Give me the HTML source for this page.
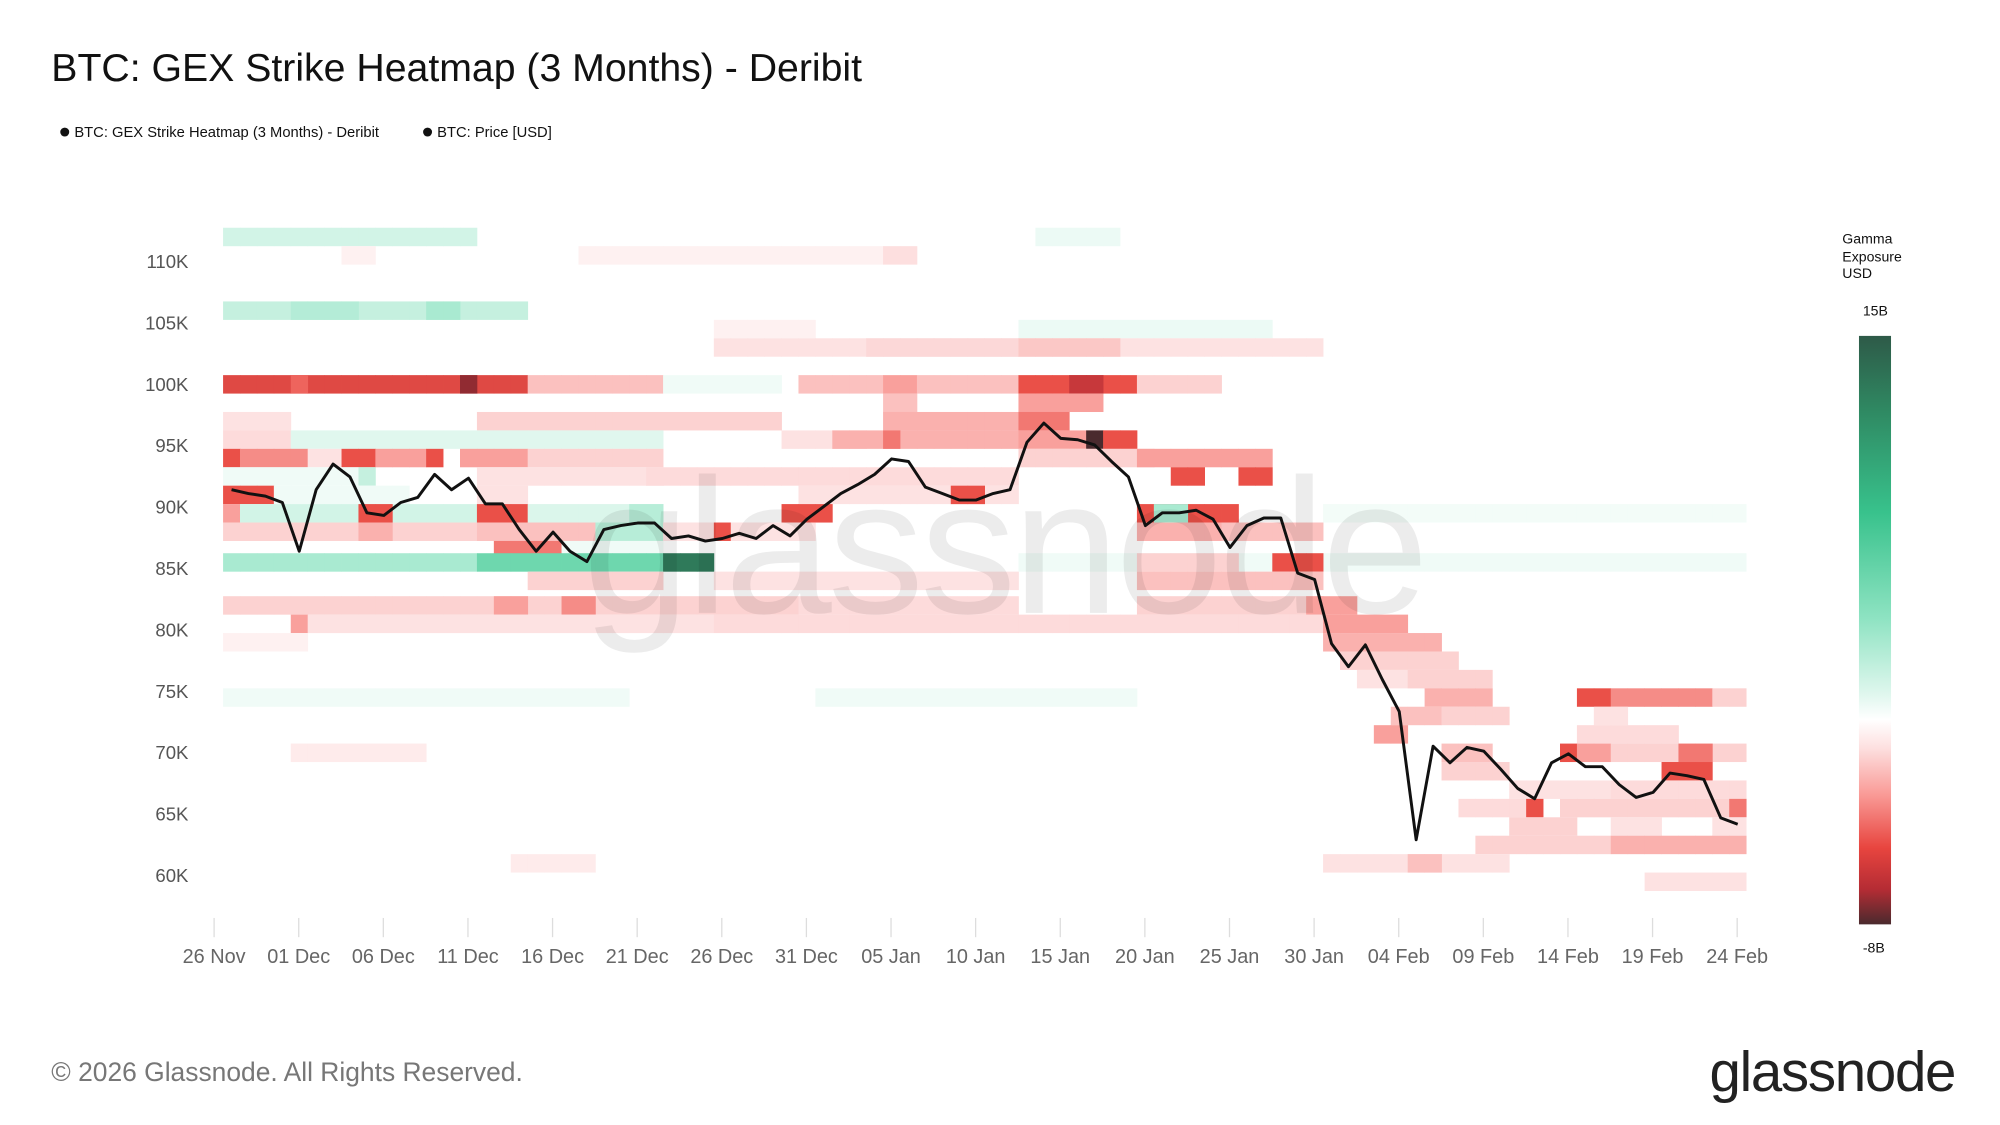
<!DOCTYPE html>
<html><head><meta charset="utf-8"><style>
html,body{margin:0;padding:0;background:#fff;width:2000px;height:1125px;overflow:hidden}
svg{display:block;font-family:"Liberation Sans",sans-serif}
</style></head><body>
<svg id="chart" width="2000" height="1125" viewBox="0 0 1560 877.5" xmlns="http://www.w3.org/2000/svg">
<defs>
<linearGradient id="cbar" x1="0" y1="0" x2="0" y2="1">
<stop offset="0" stop-color="#2e5a48"/><stop offset="0.13" stop-color="#2f8a63"/><stop offset="0.3" stop-color="#38c28c"/><stop offset="0.48" stop-color="#8ee3c2"/><stop offset="0.61" stop-color="#e0f7ee"/><stop offset="0.652" stop-color="#ffffff"/><stop offset="0.7" stop-color="#fde0e0"/><stop offset="0.78" stop-color="#f99a96"/><stop offset="0.87" stop-color="#e8453f"/><stop offset="0.94" stop-color="#b52c34"/><stop offset="1" stop-color="#4a2a2e"/>
</linearGradient>
</defs>
<text x="40" y="63" font-size="30.6" fill="#111">BTC: GEX Strike Heatmap (3 Months) - Deribit</text>
<g font-size="11.5" fill="#111">
<g><circle cx="50.5" cy="103" r="3.5" fill="#111"/><text x="58" y="107">BTC: GEX Strike Heatmap (3 Months) - Deribit</text></g>
<g><circle cx="333.5" cy="103" r="3.5" fill="#111"/><text x="341" y="107">BTC: Price [USD]</text></g>
</g>
<g id="cells"></g>
<text x="783" y="478" font-size="150" text-anchor="middle" fill="#000" fill-opacity="0.075" letter-spacing="-3">glassnode</text>
<g id="yaxis"></g>
<g id="xaxis"></g>
<path id="price" fill="none" stroke="#111" stroke-width="2.3" stroke-linejoin="round"/>
<g font-size="11" fill="#111">
<text x="1437" y="190">Gamma</text><text x="1437" y="204">Exposure</text><text x="1437" y="217">USD</text>
<text x="1453" y="246">15B</text>
<rect x="1450" y="262" width="25" height="459" fill="url(#cbar)"/>
<text x="1453" y="743">-8B</text>
</g>
<text x="40" y="843" font-size="20.6" fill="#777">© 2026 Glassnode. All Rights Reserved.</text>
<text x="1525" y="851" font-size="44" text-anchor="end" fill="#222" letter-spacing="-1">glassnode</text>
</svg>
<script>
const yTicks=[60,65,70,75,80,85,90,95,100,105,110];
const xTickLabels=["26 Nov","01 Dec","06 Dec","11 Dec","16 Dec","21 Dec","26 Dec","31 Dec","05 Jan","10 Jan","15 Jan","20 Jan","25 Jan","30 Jan","04 Feb","09 Feb","14 Feb","19 Feb","24 Feb"];
const price=[91.42,91.11,90.90,90.38,86.41,91.42,93.51,92.46,89.54,89.33,90.38,90.79,92.67,91.42,92.36,90.27,90.27,88.18,86.41,87.97,86.41,85.57,88.18,88.50,88.71,88.71,87.45,87.66,87.24,87.45,87.87,87.45,88.50,87.66,89.02,90.06,91.11,91.84,92.67,93.93,93.72,91.63,91.11,90.58,90.58,91.11,91.42,95.28,96.85,95.60,95.49,95.07,93.72,92.46,88.50,89.54,89.54,89.75,89.02,86.72,88.50,89.12,89.12,84.63,84.11,78.89,77.01,78.79,75.97,73.36,62.92,70.54,69.19,70.44,70.13,68.66,67.10,66.26,69.19,69.92,68.87,68.87,67.41,66.37,66.78,68.35,68.14,67.83,64.70,64.18];
// heatmap segments: strike (K), start day, end day (exclusive), gamma (B)
const segStrike=[112,112,110.5,110.5,110.5,106,106,106,104.5,104.5,103,103,103,100,100,100,100,100,100,100,100,100,100,100,98.5,98.5,97,97,97,97,97,95.5,95.5,95.5,95.5,95.5,95.5,95.5,95.5,94,94,94,94,94,94,94,94,94,94,92.5,92.5,92.5,92.5,92.5,92.5,91,91,91,91,91,89.5,89.5,89.5,89.5,89.5,89.5,89.5,89.5,89.5,89.5,88,88,88,88,88,88,88,88,88,86.5,86.5,85.5,85.5,85.5,85.5,85.5,85.5,84,84,84,82,82,82,82,82,82,80.5,80.5,80.5,80.5,79,79,77.5,76,76,74.5,74.5,74.5,74.5,74.5,74.5,73,73,73,71.5,71.5,70,70,70,70,70,70,68.5,68.5,67,67,65.5,65.5,65.5,65.5,64,64,64,62.5,62.5,61,61,61,59.5];
const segStart=[0,48,7,21,39,0,4,12,47,29,29,38,47,0,4,14,18,26,34,39,41,47,50,54,39,47,0,15,39,41,47,0,4,33,36,39,47,51,52,0,1,5,7,9,12,14,18,47,54,0,8,15,25,56,60,0,3,15,34,43,0,1,8,15,18,24,33,54,55,65,0,8,15,22,26,29,30,54,59,16,20,0,15,26,47,54,62,18,29,54,0,16,20,34,54,64,4,5,29,65,0,65,66,67,70,0,35,71,80,82,88,69,72,81,68,80,72,79,80,82,86,4,72,85,76,82,73,77,79,89,76,82,88,74,82,65,70,17,84];
const segEnd=[15,53,9,39,41,18,8,14,62,35,65,47,53,18,5,15,26,33,39,41,47,54,52,59,41,52,4,33,41,47,50,4,26,38,47,40,54,52,54,1,5,7,9,12,13,18,26,55,62,8,9,26,47,58,62,3,11,18,47,45,1,15,10,18,26,26,36,60,57,90,15,10,22,26,29,30,35,59,65,20,26,15,26,29,90,60,65,26,47,65,34,18,22,47,65,67,5,29,65,70,5,72,73,72,75,24,54,75,82,88,90,72,76,83,70,86,75,80,82,90,88,12,76,88,82,90,77,78,90,90,80,85,90,82,90,76,72,22,90];
const segValue=[1.5,0.6,-0.5,-0.5,-1.1,2,2.6,3,0.6,-0.5,-1,-1.3,-1.8,-5.3,-4.5,-7,-2,0.5,-2,-3,-2,-5,-6,-1.5,-2,-3,-1,-1.5,-2.5,-2.5,-4,-1.2,1,-1,-2.5,-4,-3,-8,-5,-5,-3.5,-1,-5,-3,-5,-3,-1.5,-1.5,-3,0.5,2,-1,-1.2,-5,-5,-5,0.5,-1,-1,-5,-3,1.5,-5,-5,1.2,2.5,-5,-5,3,0.4,-1.5,-2.5,-2,2.5,-1,-5,-1,-2.5,-2,-4,0.5,3,5.5,13,0.5,-1.5,-5,-1.5,-1,-2,-1.5,-3,-3.5,-1.2,-1.5,-3,-3,-1,-1.2,-3,-0.5,-2.5,-1.5,-1,-1.5,0.5,0.5,-2.5,-5,-3.5,-1.5,-2,-1.5,-1,-3,-1.2,-2,-5,-3,-1.5,-4,-0.7,-1.5,-5,-1,-1.2,-1.2,-5,-1.5,-4,-1.5,-1,-1,-1.5,-2.5,-1,-2,-0.7,-1];

const NS="http://www.w3.org/2000/svg";
const X0=180.6, DX=13.2, Y60=683, PXK=9.58, ROWH=14.4;
const xDay=d=>X0+d*DX;
const yVal=k=>Y60-(k-60)*PXK;
const stops=[[15,[46,90,72]],[12,[47,138,99]],[8,[56,194,140]],[4,[142,227,194]],[1,[224,247,238]],[0,[255,255,255]],[-1,[253,226,226]],[-3,[249,160,156]],[-5,[234,80,72]],[-6.5,[181,44,52]],[-8,[74,42,46]]];
function color(v){
  v=Math.max(-8,Math.min(15,v));
  for(let i=0;i<stops.length-1;i++){const a=stops[i],b=stops[i+1];
    if(v<=a[0]&&v>=b[0]){const t=(a[0]-v)/(a[0]-b[0]);const c=a[1].map((x,j)=>Math.round(x+(b[1][j]-x)*t));return `rgb(${c[0]},${c[1]},${c[2]})`;}}
  return "#fff";
}
const cells=document.getElementById('cells');
for(let s=0;s<segStrike.length;s++){
  for(let d=segStart[s];d<segEnd[s];d++){
    const r=document.createElementNS(NS,'rect');
    r.setAttribute('x',(xDay(d)-DX/2).toFixed(2));
    r.setAttribute('y',(yVal(segStrike[s])-ROWH/2).toFixed(2));
    r.setAttribute('width',(DX+0.3).toFixed(2));
    r.setAttribute('height',ROWH);
    r.setAttribute('fill',color(segValue[s]));
    
    
    cells.appendChild(r);
  }
}
const ya=document.getElementById('yaxis');
yTicks.forEach(k=>{
  const t=document.createElementNS(NS,'text');
  t.setAttribute('x',147);t.setAttribute('y',(yVal(k)+5).toFixed(1));
  t.setAttribute('text-anchor','end');t.setAttribute('font-size','14.5');t.setAttribute('fill','#555');
  t.textContent=k+'K';
  
  
  ya.appendChild(t);
});
const xa=document.getElementById('xaxis');
xTickLabels.forEach((lab,i)=>{
  const x=167+i*5*DX;
  const l=document.createElementNS(NS,'line');
  l.setAttribute('x1',x);l.setAttribute('x2',x);l.setAttribute('y1',716);l.setAttribute('y2',731);
  l.setAttribute('stroke','#ddd');l.setAttribute('stroke-width','1');
  
  
  xa.appendChild(l);
  const t=document.createElementNS(NS,'text');
  t.setAttribute('x',x);t.setAttribute('y',751);t.setAttribute('text-anchor','middle');
  t.setAttribute('font-size','15.5');t.setAttribute('fill','#666');
  t.textContent=lab;
  
  
  xa.appendChild(t);
});
document.getElementById('price').setAttribute('d',price.map((p,i)=>(i?'L':'M')+xDay(i).toFixed(2)+' '+yVal(p).toFixed(2)).join(' '));
</script>
</body></html>
